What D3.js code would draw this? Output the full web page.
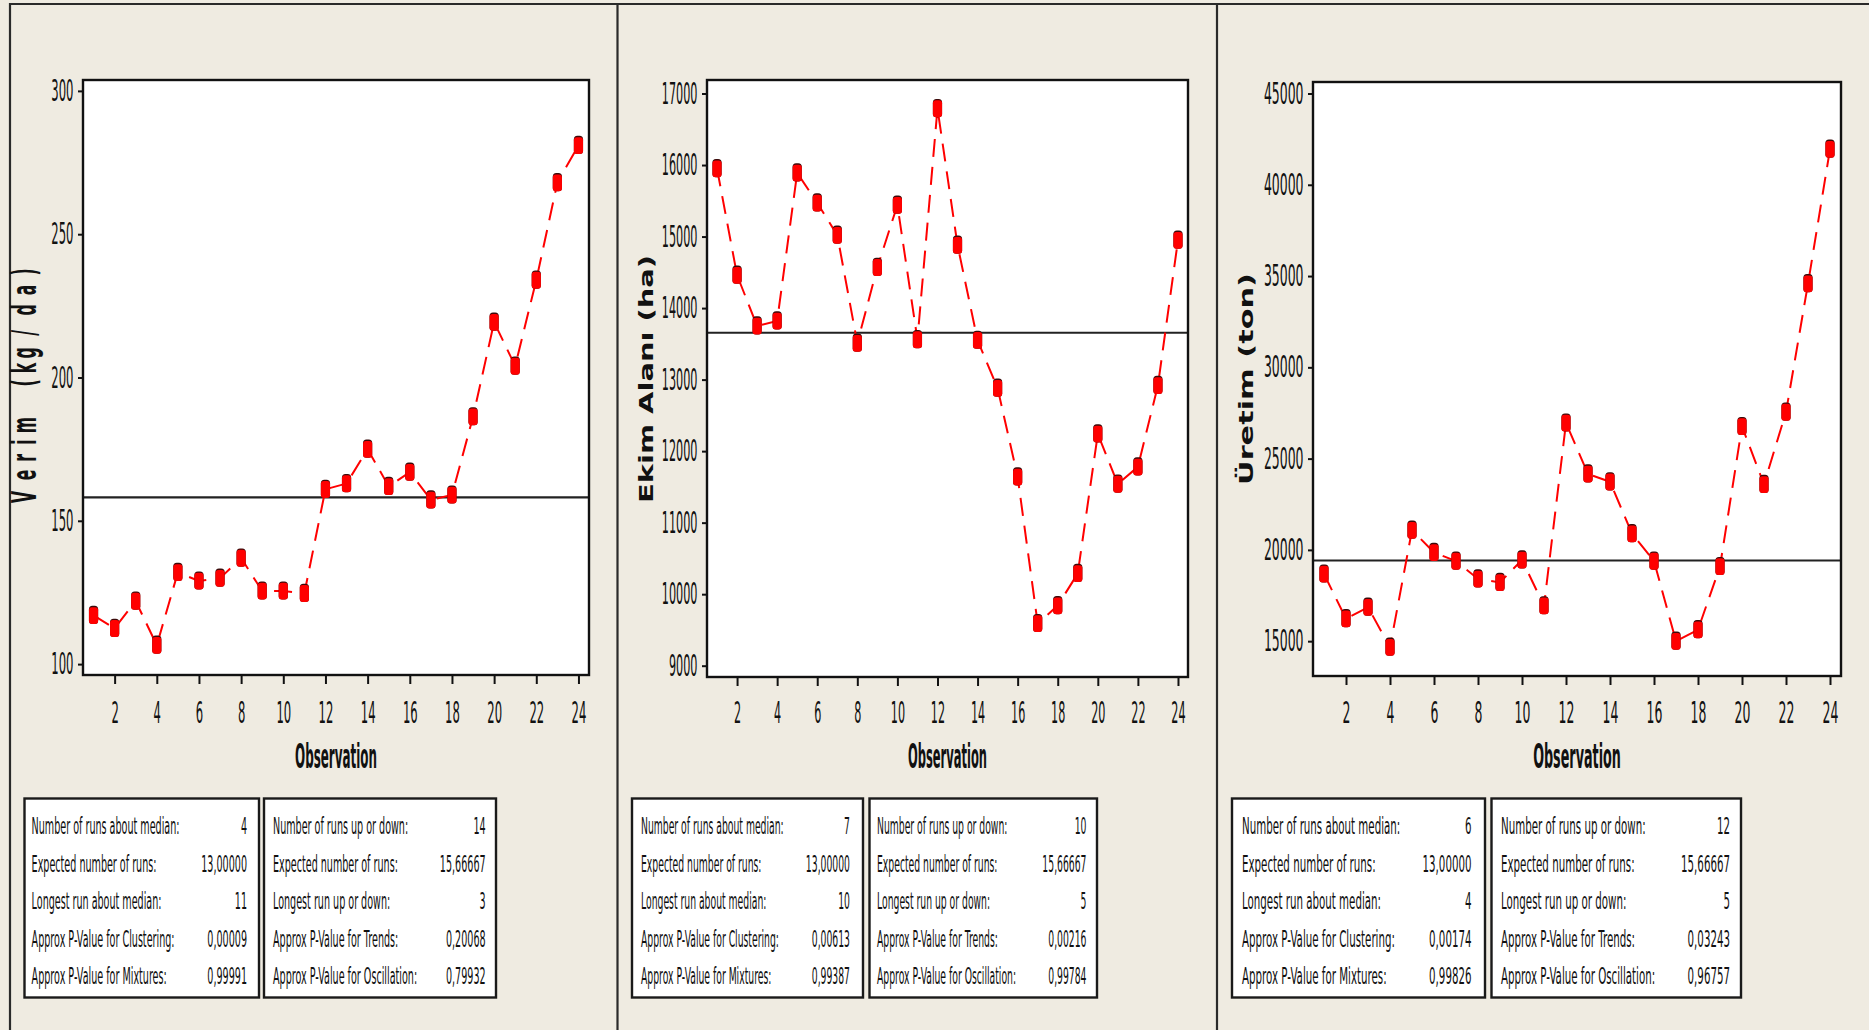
<!DOCTYPE html>
<html>
<head>
<meta charset="utf-8">
<script src="https://cdn.jsdelivr.net/npm/d3@7"></script>
<style>
  html, body { margin: 0; padding: 0; background: #EFEBE1; }
  svg { display: block; }
</style>
</head>
<body>
<svg id="chart" width="1869" height="1030"></svg>
<script>
// ---- Data: yearly series, 24 observations each ----
const observations = d3.range(1, 25);

const verim = [117, 112.5, 122, 106.6, 132, 129, 130, 137, 125.5, 125.5, 124.7, 161,
               163, 175, 162, 167, 157.3, 159, 186.3, 219.3, 204, 234, 268, 281];

const ekimAlani = [15950, 14460, 13750, 13820, 15890, 15470, 15020, 13510, 14570, 15440, 13560, 16790,
                   14880, 13550, 12880, 11640, 9590, 9840, 10290, 12240, 11540, 11780, 12920, 14950];

const uretim = [18680, 16230, 16860, 14670, 21080, 19860, 19390, 18410, 18220, 19450, 16940, 26950,
                24160, 23730, 20890, 19390, 15000, 15630, 19090, 26760, 23590, 27550, 34580, 41950];

// ---- Tick labels ----
const xTickValues = [2, 4, 6, 8, 10, 12, 14, 16, 18, 20, 22, 24];
const verimTicks = [100, 150, 200, 250, 300];
const ekimTicks = [9000, 10000, 11000, 12000, 13000, 14000, 15000, 16000, 17000];
const uretimTicks = [15000, 20000, 25000, 30000, 35000, 40000, 45000];

// ---- Run test summaries ----
const medianRunLabels = ["Number of runs about median:", "Expected number of runs:",
                         "Longest run about median:", "Approx P-Value for Clustering:",
                         "Approx P-Value for Mixtures:"];
const upDownRunLabels = ["Number of runs up or down:", "Expected number of runs:",
                         "Longest run up or down:", "Approx P-Value for Trends:",
                         "Approx P-Value for Oscillation:"];

const verimMedianRuns = ["4", "13,00000", "11", "0,00009", "0,99991"];
const verimUpDownRuns = ["14", "15,66667", "3", "0,20068", "0,79932"];
const ekimMedianRuns = ["7", "13,00000", "10", "0,00613", "0,99387"];
const ekimUpDownRuns = ["10", "15,66667", "5", "0,00216", "0,99784"];
const uretimMedianRuns = ["6", "13,00000", "4", "0,00174", "0,99826"];
const uretimUpDownRuns = ["12", "15,66667", "5", "0,03243", "0,96757"];

// ---- Layout of the three run charts ----
const panels = [
  {
    values: verim, yTicks: verimTicks, yDomain: [96.2, 303.8],
    yTitle: "Verim (kg/da)", yTitleSize: 34, yTitleWeight: "bold",
    yTitleX: 36, yTitleY: 384, yTitleLen: 236,
    // widely tracked lettering: centre of each character along the title
    yTitleSpread: { squeeze: 0.46, offsets: [-113, -91, -74, -58, -41, -20, 1, 16, 31, 51, 74, 94, 112] },
    plot: { left: 83, right: 589, top: 80, bottom: 675 }, squeeze: 1.0,
    medianRuns: verimMedianRuns, upDownRuns: verimUpDownRuns,
    box1: [24.5, 259], box2: [264, 496], text1: 31.6, val1: 247, text2: 273, val2: 485.6
  },
  {
    values: ekimAlani, yTicks: ekimTicks, yDomain: [8842, 17189],
    yTitle: "Ekim Alanı (ha)", yTitleSize: 20, yTitleWeight: "bold",
    yTitleX: 653, yTitleY: 379, yTitleLen: 248,
    plot: { left: 707, right: 1188, top: 80, bottom: 677 }, squeeze: 0.965,
    medianRuns: ekimMedianRuns, upDownRuns: ekimUpDownRuns,
    box1: [632, 863], box2: [869.5, 1097], text1: 641, val1: 850, text2: 877, val2: 1086.5
  },
  {
    values: uretim, yTicks: uretimTicks, yDomain: [13092, 45630],
    yTitle: "Üretim (ton)", yTitleSize: 19.5, yTitleWeight: "bold",
    yTitleX: 1253, yTitleY: 379, yTitleLen: 212,
    plot: { left: 1313, right: 1841, top: 82, bottom: 676 }, squeeze: 1.07,
    medianRuns: uretimMedianRuns, upDownRuns: uretimUpDownRuns,
    box1: [1232, 1485], box2: [1491.5, 1741], text1: 1242, val1: 1471.5, text2: 1501, val2: 1730
  }
];

const FONT = "'DejaVu Sans', Verdana, sans-serif";
const INK = "#111";
const svg = d3.select("#chart");

function naturalWidth(str, size, weight) {
  const t = svg.append("text").attr("font-family", FONT).attr("font-size", size)
    .attr("font-weight", weight).text(str);
  const w = t.node().getComputedTextLength();
  t.remove();
  return w;
}

// Horizontal compression factors for the narrow lettering
const TICK_SIZE = 30, STAT_SIZE = 23, OBS_SIZE = 34;
const tickSx = 7.4 / naturalWidth("0", TICK_SIZE, "normal");
const statSx = 148 / naturalWidth("Number of runs about median:", STAT_SIZE, "normal");
const obsSx = 82 / naturalWidth("Observation", OBS_SIZE, "bold");

function squeezedText(parent, x, y, str, size, weight, sx, anchor) {
  return parent.append("text")
    .attr("transform", `translate(${x},${y}) scale(${sx},1)`)
    .attr("text-anchor", anchor)
    .attr("font-family", FONT)
    .attr("font-size", size)
    .attr("font-weight", weight)
    .attr("fill", INK)
    .text(str);
}

// ---- Panel frame lines ----
svg.append("path")
  .attr("d", "M10,1030 V4 H1869 M617.5,4 V1030 M1217,4 V1030")
  .attr("fill", "none").attr("stroke", "#2a2a2a").attr("stroke-width", 2.2);

panels.forEach(p => {
  const { left, right, top, bottom } = p.plot;
  const g = svg.append("g");

  const x = d3.scaleLinear().domain([0.5, 24.5]).range([left, right]);
  const y = d3.scaleLinear().domain(p.yDomain).range([bottom, top]);

  // plot area
  g.append("rect")
    .attr("x", left).attr("y", top).attr("width", right - left).attr("height", bottom - top)
    .attr("fill", "#fff");

  // y axis
  const yAxis = g.append("g").attr("transform", `translate(${left},0)`)
    .call(d3.axisLeft(y).tickValues(p.yTicks).tickSize(5).tickPadding(4).tickFormat(d3.format("d")));
  yAxis.select(".domain").remove();
  yAxis.selectAll(".tick line").attr("stroke", INK).attr("stroke-width", 2);
  yAxis.selectAll(".tick text")
    .attr("x", null)
    .attr("transform", `translate(-9.5,0) scale(${tickSx * p.squeeze},1)`)
    .attr("font-family", FONT).attr("font-size", TICK_SIZE).attr("fill", INK);

  // x axis
  const xAxis = g.append("g").attr("transform", `translate(0,${bottom})`)
    .call(d3.axisBottom(x).tickValues(xTickValues).tickSize(9).tickFormat(d3.format("d")));
  xAxis.select(".domain").remove();
  xAxis.selectAll(".tick line").attr("stroke", INK).attr("stroke-width", 2);
  xAxis.selectAll(".tick text")
    .attr("y", null).attr("dy", null)
    .attr("transform", `translate(0,${723 - bottom}) scale(${tickSx * p.squeeze},1)`)
    .attr("font-family", FONT).attr("font-size", TICK_SIZE).attr("fill", INK);

  // median reference line
  const med = d3.median(p.values);
  g.append("line")
    .attr("x1", left).attr("x2", right).attr("y1", y(med)).attr("y2", y(med))
    .attr("stroke", "#222").attr("stroke-width", 2.2);

  // observations connected by a dashed line
  const pts = observations.map((o, i) => ({ obs: o, value: p.values[i] }));
  g.append("path")
    .datum(pts)
    .attr("d", d3.line().x(d => x(d.obs)).y(d => y(d.value)))
    .attr("fill", "none").attr("stroke", "#FF0000").attr("stroke-width", 2)
    .attr("stroke-dasharray", "18,10");

  const mk = g.selectAll(".mk").data(pts).join("g")
    .attr("class", "mk")
    .attr("transform", d => `translate(${x(d.obs)},${y(d.value)})`);
  mk.append("rect")
    .attr("x", -4.6).attr("y", -9.6).attr("width", 9.2).attr("height", 18.2).attr("rx", 3.5)
    .attr("fill", "#3b0a0a");
  mk.append("rect")
    .attr("x", -4.6).attr("y", -8.2).attr("width", 9.2).attr("height", 16.8).attr("rx", 3)
    .attr("fill", "#FF0000");

  // plot border
  g.append("rect")
    .attr("x", left).attr("y", top).attr("width", right - left).attr("height", bottom - top)
    .attr("fill", "none").attr("stroke", INK).attr("stroke-width", 2.4);

  // axis titles
  squeezedText(g, (left + right) / 2, 768, "Observation", OBS_SIZE, "bold", obsSx * p.squeeze, "middle");

  const title = g.append("text")
    .attr("text-anchor", "middle")
    .attr("font-family", FONT)
    .attr("font-size", p.yTitleSize)
    .attr("font-weight", p.yTitleWeight)
    .attr("fill", INK)
    .text(p.yTitle);
  if (p.yTitleSpread) {
    const s = p.yTitleSpread.squeeze;
    title
      .attr("transform", `translate(${p.yTitleX},${p.yTitleY}) rotate(-90) scale(${s},1)`)
      .attr("x", p.yTitleSpread.offsets.map(o => (o / s).toFixed(2)).join(" "));
  } else {
    title
      .attr("transform", `translate(${p.yTitleX},${p.yTitleY}) rotate(-90)`)
      .attr("textLength", p.yTitleLen)
      .attr("lengthAdjust", "spacingAndGlyphs");
  }

  // run test tables
  const boxTop = 798.5, boxBottom = 997.5;
  [[p.box1, p.text1, p.val1, medianRunLabels, p.medianRuns],
   [p.box2, p.text2, p.val2, upDownRunLabels, p.upDownRuns]].forEach(([bx, tx, vx, labels, vals]) => {
    g.append("rect")
      .attr("x", bx[0]).attr("y", boxTop).attr("width", bx[1] - bx[0]).attr("height", boxBottom - boxTop)
      .attr("fill", "#fff").attr("stroke", "#1a1a1a").attr("stroke-width", 2.4);
    labels.forEach((lab, i) => {
      const by = 834 + i * 37.5;
      squeezedText(g, tx, by, lab, STAT_SIZE, "normal", statSx * p.squeeze, "start");
      squeezedText(g, vx, by, vals[i], STAT_SIZE, "normal", statSx * p.squeeze, "end");
    });
  });
});
</script>
</body>
</html>
